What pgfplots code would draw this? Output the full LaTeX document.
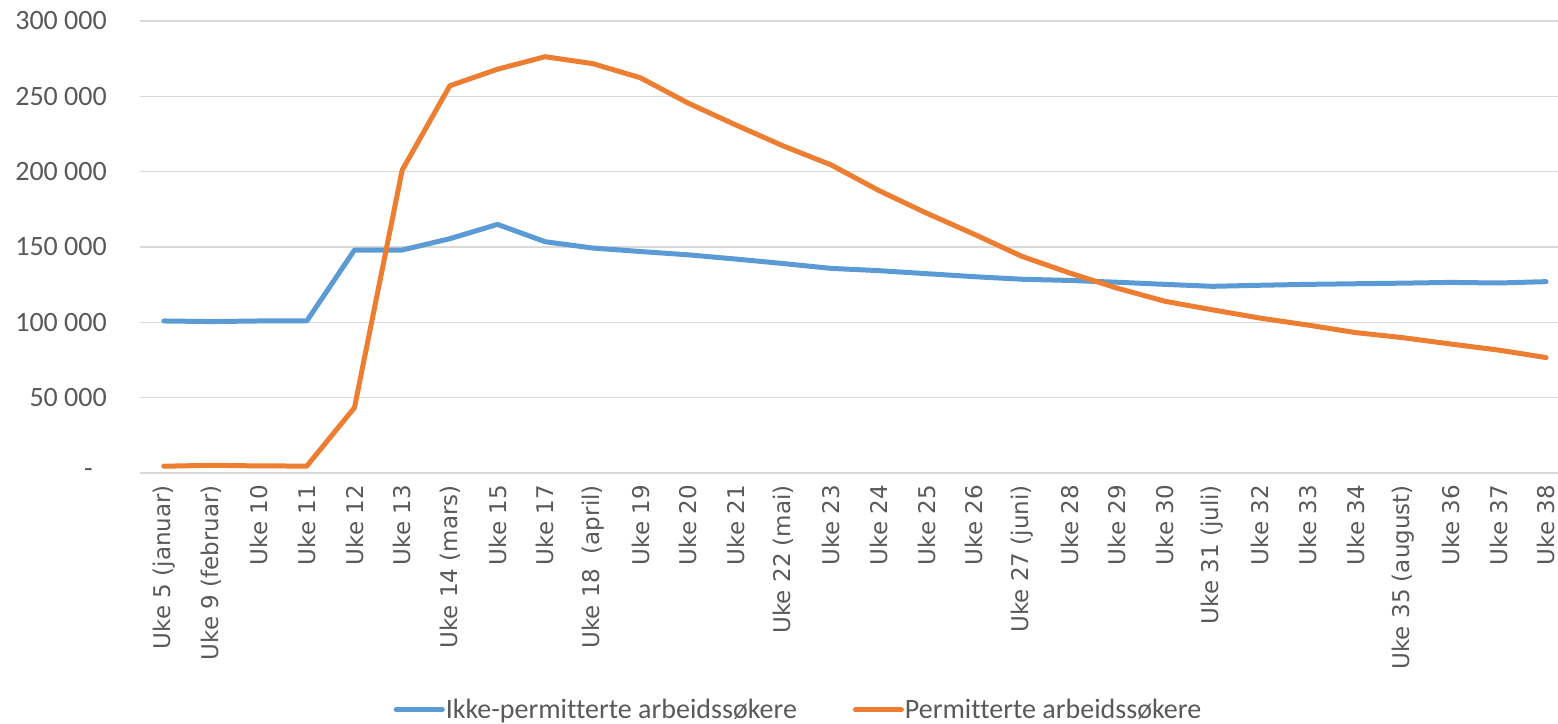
\documentclass[border=0pt]{standalone}
\usepackage{pgfplots}
\pgfplotsset{compat=1.18}
\usepackage{fontspec}
\setmainfont{Carlito}[Ligatures={NoCommon}]
\newfontfamily\xfont{DejaVu Sans}
\definecolor{cblue}{HTML}{5B9BD5}
\definecolor{corange}{HTML}{ED7D31}
\definecolor{ctext}{HTML}{595959}
\definecolor{cgrid}{HTML}{D9D9D9}
\begin{document}
\begin{tikzpicture}
\begin{axis}[
  name=ax,
  scale only axis,
  width=1418pt, height=452pt,
  xmin=-0.5, xmax=29.25,
  ymin=0, ymax=300000,
  scaled y ticks=false,
  axis line style={draw=none},
  major tick length=0pt,
  tick style={draw=none},
  ymajorgrids,
  grid style={cgrid, line width=1.5pt},
  ytick={0,50000,100000,150000,200000,250000,300000},
  yticklabels={-\rule{14pt}{0pt}, 50 000, 100 000, 150 000, 200 000, 250 000, 300 000},
  yticklabel style={font=\fontsize{28}{30}\selectfont, text=ctext, anchor=east, inner sep=0pt},
  yticklabel shift=33pt,
  xtick={0,...,29},
  xticklabels={Uke 5 (januar), Uke 9 (februar), Uke 10, Uke 11, Uke 12, Uke 13, Uke 14 (mars), Uke 15, Uke 17, Uke 18\ \ (april), Uke 19, Uke 20, Uke 21, Uke 22 (mai), Uke 23, Uke 24, Uke 25, Uke 26, Uke 27 (juni), Uke 28, Uke 29, Uke 30, Uke 31 (juli), Uke 32, Uke 33, Uke 34, Uke 35 (august), Uke 36, Uke 37, Uke 38},
  xticklabel style={font=\xfont\fontsize{23}{25}\selectfont, text=ctext, rotate=90, anchor=east, inner sep=0pt},
  xticklabel shift=12pt,
  legend columns=2,
  legend style={draw=none, fill=none, at={(0.464,-0.524)}, anchor=center,
    font=\fontsize{28}{30}\selectfont, text=ctext,
    nodes={inner sep=1pt},
    /tikz/every even column/.append style={column sep=55pt}},
  legend image code/.code={\draw[#1, line width=5pt, line cap=round] (0pt,0pt) -- (46pt,0pt);},
]
\addplot[cblue, line width=5pt, line join=round, line cap=round] coordinates {
(0,100900) (1,100500) (2,100900) (3,100900) (4,148000) (5,148000) (6,155500)
(7,165000) (8,153500) (9,149300) (10,147000) (11,144800) (12,142000) (13,139000)
(14,135800) (15,134300) (16,132300) (17,130300) (18,128600) (19,127800) (20,126600)
(21,125200) (22,123900) (23,124600) (24,125200) (25,125600) (26,126000) (27,126500)
(28,126100) (29,127000)
};
\addlegendentry{Ikke-permitterte arbeidssøkere}
\addplot[corange, line width=5pt, line join=round, line cap=round] coordinates {
(0,4500) (1,5100) (2,4700) (3,4600) (4,43400) (5,201000) (6,257000)
(7,268000) (8,276300) (9,271700) (10,262300) (11,245500) (12,231000) (13,217000)
(14,204500) (15,187500) (16,172500) (17,158500) (18,143800) (19,132800) (20,122700)
(21,114000) (22,108300) (23,102800) (24,98200) (25,93200) (26,89800) (27,85600)
(28,81600) (29,76600)
};
\addlegendentry{Permitterte arbeidssøkere}
\end{axis}
\pgfresetboundingbox
\path ([shift={(-140pt,-251pt)}]ax.south west) rectangle ([shift={(0pt,21pt)}]ax.north east);
\end{tikzpicture}
\end{document}
